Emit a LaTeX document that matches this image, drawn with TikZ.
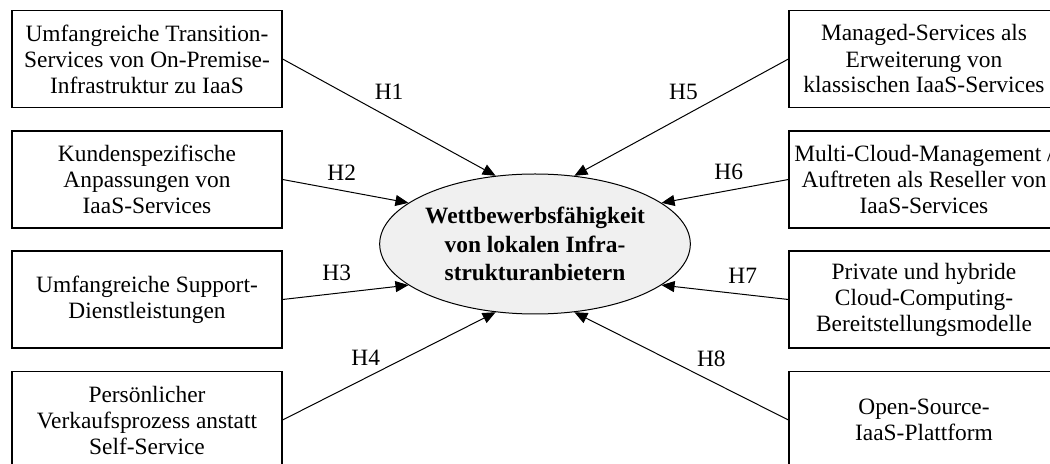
\documentclass[tikz,border=0pt]{standalone}
\usepackage{fontspec}
\setmainfont{Liberation Serif}
\usetikzlibrary{shapes.geometric,arrows.meta}
\definecolor{ellfill}{HTML}{F0F0F0}
\tikzset{
  factor/.style={draw, line width=0.6pt, minimum width=135pt, minimum height=48.5pt, inner sep=2pt, align=center, font=\fontsize{11.7}{13}\selectfont},
  outcome/.style={ellipse, draw, line width=0.5pt, fill=ellfill, minimum width=135pt, minimum height=70pt, inner sep=0pt, align=center, font=\fontsize{11.7}{14.2}\selectfont\bfseries},
  hyp/.style={line width=0.5pt, -{Triangle[length=6.5pt,width=5.5pt]}},
  hlabel/.style={font=\fontsize{11.7}{13}\selectfont, inner sep=1pt}
}
\begin{document}
\begin{tikzpicture}[x=0.5pt,y=-0.5pt]
\useasboundingbox (0,0) rectangle (1050,464);
\node[outcome] (wb) at (535,244) {Wettbewerbsfähigkeit\\von lokalen Infra-\\strukturanbietern};
\node[factor] (h1) at (147,59) {Umfangreiche Transition-\\Services von On-Premise-\\Infrastruktur zu IaaS};
\node[factor] (h2) at (147,179.5) {Kundenspezifische\\Anpassungen von\\IaaS-Services};
\node[factor] (h3) at (147,299.5) {Umfangreiche Support-\\Dienstleistungen};
\node[factor] (h4) at (147,420) {Persönlicher\\Verkaufsprozess anstatt\\Self-Service};
\node[factor] (h5) at (924,59) {Managed-Services als\\Erweiterung von\\klassischen IaaS-Services};
\node[factor] (h6) at (924,179.5) {Multi-Cloud-Management /\\Auftreten als Reseller von\\IaaS-Services};
\node[factor] (h7) at (924,299.5) {Private und hybride\\Cloud-Computing-\\Bereitstellungsmodelle};
\node[factor] (h8) at (924,420) {Open-Source-\\IaaS-Plattform};
\draw[hyp] (h1.east) -- node[hlabel, pos=0.5, yshift=13pt] {H1} (wb.120);
\draw[hyp] (h2.east) -- node[hlabel, pos=0.47, yshift=9pt] {H2} (wb.162);
\draw[hyp] (h3.east) -- node[hlabel, pos=0.43, yshift=10pt] {H3} (wb.198);
\draw[hyp] (h4.east) -- node[hlabel, pos=0.39, yshift=10pt] {H4} (wb.240);
\draw[hyp] (h5.west) -- node[hlabel, pos=0.49, yshift=12pt] {H5} (wb.60);
\draw[hyp] (h6.west) -- node[hlabel, pos=0.47, yshift=9.5pt] {H6} (wb.18);
\draw[hyp] (h7.west) -- node[hlabel, pos=0.36, yshift=9pt] {H7} (wb.342);
\draw[hyp] (h8.west) -- node[hlabel, pos=0.36, yshift=11pt] {H8} (wb.300);
\end{tikzpicture}
\end{document}
